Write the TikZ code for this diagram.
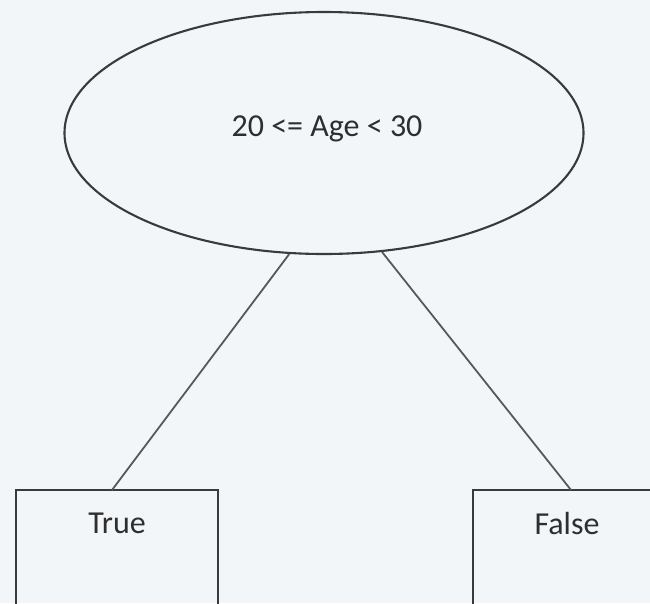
\documentclass[tikz,border=0pt]{standalone}
\usepackage{fontspec}
\setmainfont{Carlito}
\usetikzlibrary{shapes.geometric}
\definecolor{bg}{HTML}{F3F6F9}
\definecolor{ink}{HTML}{3A3A3A}
\definecolor{txt}{HTML}{2E2E2E}
\tikzset{
  edge/.style={draw=ink!85, line width=1.8pt},
  shapeline/.style={draw=ink, line width=2.1pt},
  label/.style={text=txt, font=\fontsize{32}{36}\selectfont},
}
\begin{document}
\begin{tikzpicture}[x=1pt,y=-1pt]
  \fill[bg] (0,0) rectangle (650,603);
  \useasboundingbox (0,0) rectangle (650,603);
  \clip (0,0) rectangle (650,603);
  % decision node
  \node[shapeline, ellipse, minimum width=519pt, minimum height=242pt, inner sep=0pt] (root) at (324,133) {};
  \node[label] (cond) at (327,129) {20 <= Age < 30};
  % leaf boxes (running off the page edges)
  \draw[shapeline] (16,640) |- (218,490) -- (218,640);
  \draw[shapeline] (473,640) |- (675,490) -- (675,640);
  \coordinate (ltop) at (112,490);
  \coordinate (rtop) at (571,490);
  \node[label] (t) at (117,523) {True};
  \node[label] (f) at (567,523) {False};
  % branches
  \draw[edge] (root.254.3) -- (ltop);
  \draw[edge] (root.296) -- (rtop);
\end{tikzpicture}
\end{document}
